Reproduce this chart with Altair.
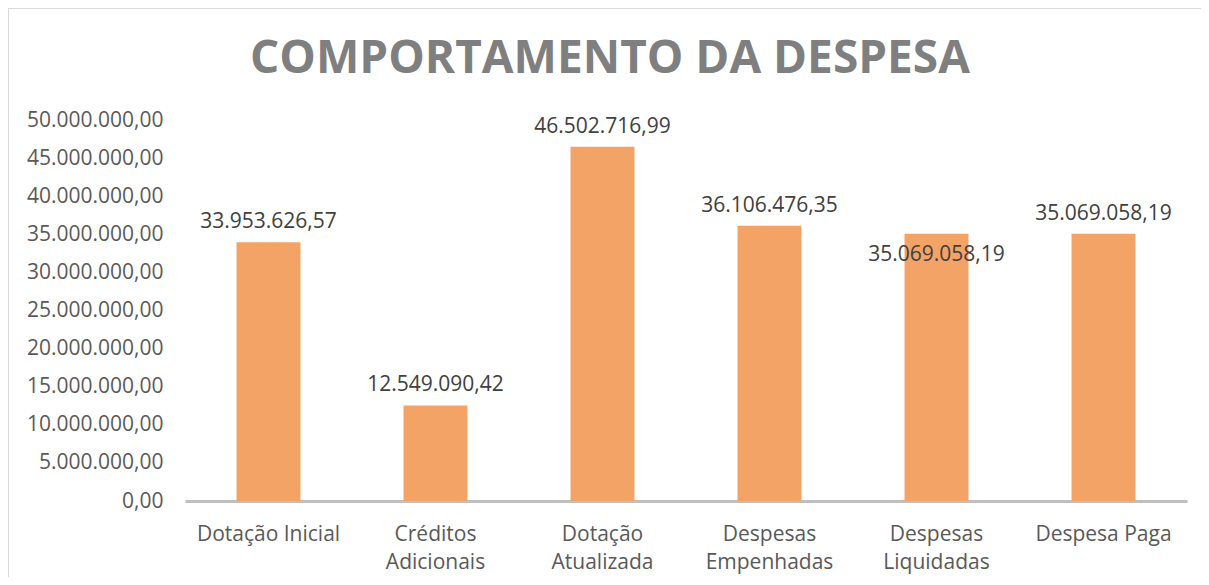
import altair as alt
import pandas as pd

title_text = ["COMPORTAMENTO DA DESPESA"]
categories = ["Dotação Inicial", "Créditos Adicionais", "Dotação Atualizada",
              "Despesas Empenhadas", "Despesas Liquidadas", "Despesa Paga"]
values = [33953626.57, 12549090.42, 46502716.99, 36106476.35, 35069058.19, 35069058.19]
label_inside = [False, False, False, False, True, False]
y_ticks = [0, 5000000, 10000000, 15000000, 20000000, 25000000,
           30000000, 35000000, 40000000, 45000000, 50000000]

df = pd.DataFrame({"cat": categories, "val": values, "inside": label_inside})

FONT = "Open Sans"
FS = 21

x_enc = alt.X(
    "cat:N", sort=categories, title=None,
    scale=alt.Scale(paddingInner=0.617, paddingOuter=0.3085),
    axis=alt.Axis(
        labelAngle=0, ticks=False, domainColor="#BFBFBF", domainWidth=3,
        labelColor="#595959", labelFont=FONT, labelFontSize=FS,
        labelPadding=22, labelLineHeight=28,
        labelExpr="indexof(['Dotação Inicial','Despesa Paga'], datum.label) >= 0 ? datum.label : split(datum.label, ' ')",
    ),
)
y_enc = alt.Y(
    "val:Q", title=None,
    scale=alt.Scale(domain=[0, 50000000], nice=False),
    axis=alt.Axis(
        values=y_ticks, format=",.2f", grid=False, ticks=False, domain=False,
        labelOverlap=False,
        labelColor="#595959", labelFont=FONT, labelFontSize=FS, labelPadding=22,
    ),
)

base = alt.Chart(df)
bars = base.mark_bar(color="#F4A367").encode(x=x_enc, y=y_enc)

txt_above = base.transform_filter("!datum.inside").mark_text(
    dy=-20, baseline="middle", font=FONT, fontSize=FS, color="#404040"
).encode(x=x_enc, y=y_enc, text=alt.Text("val:Q", format=",.2f"))

txt_inside = base.transform_filter("datum.inside").mark_text(
    dy=21, baseline="middle", font=FONT, fontSize=FS, color="#404040"
).encode(x=x_enc, y=y_enc, text=alt.Text("val:Q", format=",.2f"))

frame = alt.Chart(pd.DataFrame({"a": [0]})).mark_rect(
    fill=None, stroke="#D9D9D9", strokeWidth=2
).encode(x=alt.value(-177), x2=alt.value(1100), y=alt.value(-112), y2=alt.value(600))

title = alt.Chart(pd.DataFrame({"t": title_text})).mark_text(
    font=FONT, fontSize=46, fontWeight="bold", color="#7F7F7F",
    align="center", baseline="alphabetic",
).encode(text="t:N", x=alt.value(425), y=alt.value(-47))

chart = alt.layer(frame, bars, txt_above, txt_inside, title).properties(
    width=1002, height=381,
    autosize=alt.AutoSizeParams(type="none"),
    padding={"left": 177, "top": 112, "right": 14, "bottom": 76},
).configure(
    locale={"number": {"decimal": ",", "thousands": ".", "grouping": [3], "currency": ["", ""]}},
    view={"stroke": "transparent", "strokeWidth": 0},
)

chart.save("out.html", embed_options={"renderer": "svg", "actions": False})
